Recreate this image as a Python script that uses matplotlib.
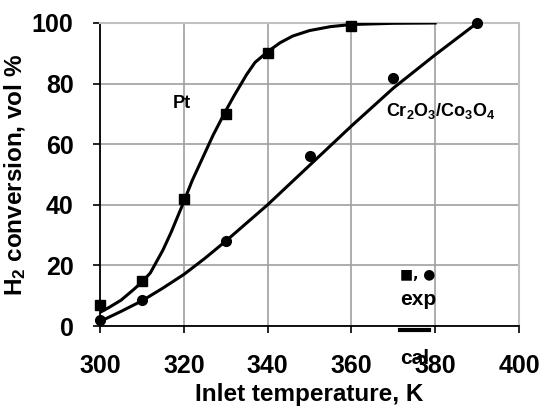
import matplotlib
matplotlib.use("Agg")
from matplotlib import pyplot as plt
from matplotlib.lines import Line2D

# experimental points
pt_temp = [300, 310, 320, 330, 340, 360]
pt_conv = [7, 15, 42, 70, 90, 99]
cr_temp = [300, 310, 330, 350, 370, 390]
cr_conv = [2, 8.5, 28, 56, 82, 100]

# calculated curves
pt_cal_temp = [300, 302, 305, 308, 310, 312, 315, 317, 320, 322, 325, 327, 330,
               332, 335, 337, 340, 343, 346, 350, 355, 360, 370, 380]
pt_cal_conv = [4.5, 6, 8.5, 12, 14.5, 17.5, 25, 31, 41, 48, 57, 63, 71,
               76, 83, 87, 90.5, 93.5, 95.7, 97.5, 98.8, 99.5, 99.9, 100]
cr_cal_temp = [300, 305, 310, 315, 320, 325, 330, 340, 350, 360, 370, 380, 390]
cr_cal_conv = [1.5, 4.8, 8.3, 12.5, 17, 22.3, 28, 40, 53, 66, 78.5, 89.5, 100]

x_ticks = [300, 320, 340, 360, 380, 400]
y_ticks = [0, 20, 40, 60, 80, 100]

plt.rcParams['font.family'] = ['Liberation Sans', 'DejaVu Sans']
plt.rcParams['font.weight'] = 'bold'
plt.rcParams['mathtext.fontset'] = 'custom'
plt.rcParams['mathtext.rm'] = 'Liberation Sans:bold'
plt.rcParams['mathtext.bf'] = 'Liberation Sans:bold'
plt.rcParams['mathtext.it'] = 'Liberation Sans:bold'
plt.rcParams['mathtext.default'] = 'rm'

fig = plt.figure(figsize=(5.41, 4.07), dpi=100)
ax = fig.add_axes([100 / 541, 1 - 326 / 407, 419 / 541, 303 / 407])

ax.plot(pt_cal_temp, pt_cal_conv, color='black', lw=2.2, zorder=3,
        solid_joinstyle='round')
ax.plot(cr_cal_temp, cr_cal_conv, color='black', lw=2.2, zorder=3,
        solid_joinstyle='round')
ax.plot(pt_temp, pt_conv, 's', color='black', ms=7, zorder=4, clip_on=False)
ax.plot(cr_temp, cr_conv, 'o', color='black', ms=7, zorder=4, clip_on=False)

ax.set_xlim(300, 400)
ax.set_ylim(0, 100)
ax.set_xticks(x_ticks)
ax.set_yticks(y_ticks)
ax.grid(True, color='#a0a0a0', lw=1.2)
ax.set_axisbelow(True)
for s in ['top', 'right']:
    ax.spines[s].set_color('#c0c0c0')
    ax.spines[s].set_linewidth(1.5)
for s in ['left', 'bottom']:
    ax.spines[s].set_color('black')
    ax.spines[s].set_linewidth(1.3)
ax.tick_params(direction='out', length=5, width=1.2, labelsize=18)
ax.tick_params(axis='x', pad=15)
ax.tick_params(axis='y', pad=14)
for lab in ax.get_xticklabels() + ax.get_yticklabels():
    lab.set_fontweight('bold')

ax.set_xlabel('Inlet temperature, K', fontsize=17.5, fontweight='bold', labelpad=4)
ax.set_ylabel('H$_2$ conversion, vol %', fontsize=17.5, fontweight='bold', labelpad=3)

ax.text(319.6, 73.5, 'Pt', fontsize=13, ha='center', va='center')
ax.text(381.4, 71, 'Cr$_2$O$_3$/Co$_3$O$_4$', fontsize=13, ha='center', va='center')

# legend-like annotation
ax.text(0.716, 0.168, '■, ●', transform=ax.transAxes, fontsize=10,
        family=['DejaVu Sans'], va='center')
ax.text(0.716, 0.086, 'exp', transform=ax.transAxes, fontsize=15, va='center')
ax.add_line(Line2D([0.716, 0.785], [-0.013, -0.013], transform=ax.transAxes,
                   color='black', lw=3, clip_on=False))
ax.text(0.716, -0.106, 'cal', transform=ax.transAxes, fontsize=15, va='center')

plt.savefig('out.png', dpi=100)
